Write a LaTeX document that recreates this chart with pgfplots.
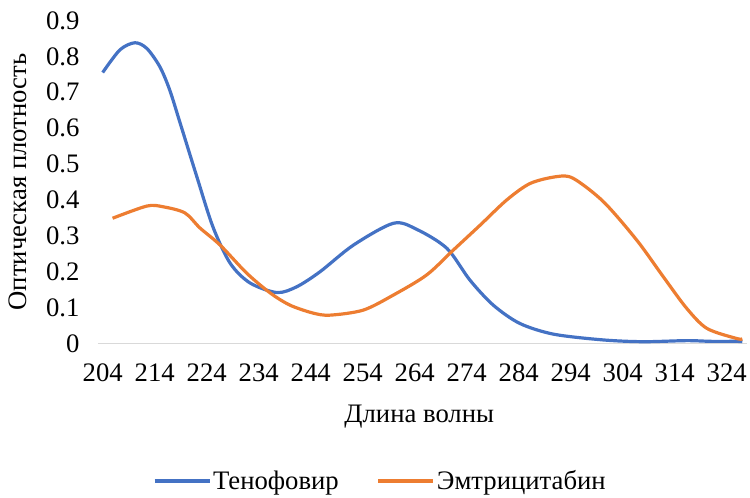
\documentclass[border=0pt]{standalone}
\usepackage{fontspec}
\usepackage{pgfplots}
\pgfplotsset{compat=1.18}
\setmainfont{Liberation Serif}
\newfontfamily\tnr{Liberation Serif}
\definecolor{cblue}{HTML}{4472C4}
\definecolor{corange}{HTML}{ED7D31}
\definecolor{cgrid}{HTML}{D9D9D9}
\begin{document}
\begin{tikzpicture}[font=\tnr]
\path[use as bounding box] (-98bp,-154.5bp) rectangle (652bp,343.5bp);
\begin{axis}[
  at={(0,0)}, anchor=origin,
  scale only axis, width=649bp, height=323bp,
  xmin=203.1, xmax=327.9, ymin=0, ymax=0.9,
  axis line style={draw=none},
  major tick length=0pt,
  font=\tnr\fontsize{26.8}{31}\selectfont,
  /pgf/number format/assume math mode=true,
  xtick={204,214,224,234,244,254,264,274,284,294,304,314,324},
  xticklabels={204,214,224,234,244,254,264,274,284,294,304,314,324},
  ytick={0,0.1,0.2,0.3,0.4,0.5,0.6,0.7,0.8,0.9},
  yticklabels={0,0.1,0.2,0.3,0.4,0.5,0.6,0.7,0.8,0.9},
  yticklabel style={anchor=east, xshift=-15bp},
  xticklabel style={anchor=north, yshift=-17bp},
  xlabel={Длина волны},
  xlabel style={at={(axis description cs:0.495,-0.2461)}, anchor=base},
  ylabel={Оптическая плотность},
  ylabel style={at={(axis description cs:-0.124,0.5)}, anchor=center, rotate=0},
  legend columns=2,
  legend style={at={(axis description cs:0.435,-0.426)}, anchor=center, draw=none,
    font=\tnr\fontsize{26.8}{31}\selectfont,
    /tikz/every even column/.append style={column sep=36bp},
    cells={anchor=west}, inner sep=0pt},
  legend image code/.code={\draw[#1] (0bp,0bp) -- (55bp,0bp);},
  clip=false,
]
\draw[cgrid, line width=1.3bp] (axis cs:203.1,0) -- (axis cs:327.9,0);
\addplot[cblue, line width=3.2bp, smooth, tension=0.5] coordinates {
(204,0.755) (207.3,0.818) (210.2,0.838) (212.5,0.822) (215,0.771) (216.9,0.706)
(218.9,0.614) (222.1,0.465) (225.2,0.325) (228.5,0.224) (232.3,0.169) (237.5,0.142)
(241.3,0.158) (245.8,0.2) (252.2,0.274) (259.9,0.335) (264.4,0.318) (270.2,0.265)
(274.6,0.177) (279.1,0.107) (284.2,0.056) (290.7,0.026) (300.2,0.010) (307.9,0.005)
(316.3,0.008) (321,0.006) (325.9,0.006) (327,0.005)
};
\addlegendentry{Тенофовир}
\addplot[corange, line width=3.2bp, smooth, tension=0.5] coordinates {
(205.9,0.349) (212.5,0.383) (215.6,0.381) (219.8,0.364) (222.7,0.322) (226.6,0.274)
(231.7,0.196) (236.2,0.141) (240,0.107) (244.4,0.085) (247.7,0.079) (254.1,0.093)
(259.9,0.135) (266.3,0.191) (271.4,0.260) (276.6,0.330) (281.7,0.400) (286.2,0.446)
(291.3,0.465) (294.5,0.460) (300.3,0.395) (306.7,0.288) (311.8,0.186) (316.3,0.098)
(320.2,0.042) (325.9,0.014) (327,0.013)
};
\addlegendentry{Эмтрицитабин}
\end{axis}
\end{tikzpicture}
\end{document}
